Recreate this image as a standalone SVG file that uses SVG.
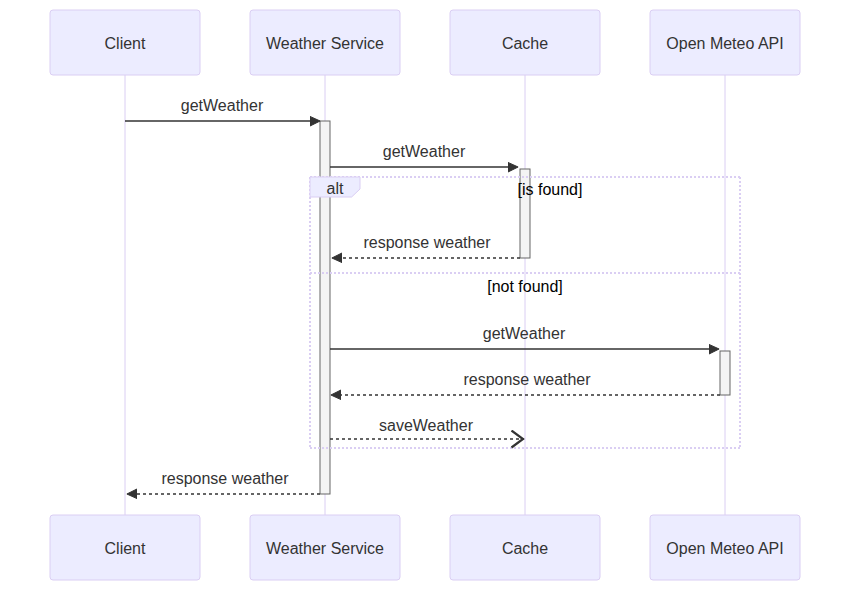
<svg xmlns="http://www.w3.org/2000/svg" width="850" height="591" viewBox="0 0 850 591">
<style>
  .actor { fill: #ECECFF; stroke: #DACEF3; stroke-width: 1; }
  .actor-text { font-family: "trebuchet ms", "Liberation Sans", Arial, sans-serif; font-size: 16px; fill: #333; text-anchor: middle; }
  .lifeline { stroke: #DACEF3; stroke-width: 1; }
  .act { fill: #F4F4F4; stroke: #666; stroke-width: 1; }
  .msg { stroke: #333; stroke-width: 1.5; fill: none; }
  .dotted { stroke-dasharray: 3,3; }
  .msg-text { font-family: "trebuchet ms", "Liberation Sans", Arial, sans-serif; font-size: 16px; fill: #333; text-anchor: middle; }
  .loop-line { stroke: #DACEF3; stroke-width: 2; stroke-dasharray: 2,2; fill: none; }
  .label-box { fill: #ECECFF; stroke: #DACEF3; stroke-width: 1; }
  .loop-text { font-family: "trebuchet ms", "Liberation Sans", Arial, sans-serif; font-size: 16px; fill: #000; text-anchor: middle; }
  .label-text { font-family: "trebuchet ms", "Liberation Sans", Arial, sans-serif; font-size: 16px; fill: #333; text-anchor: middle; }
</style>
<defs>
  <marker id="arrowhead" refX="7.9" refY="5" markerUnits="userSpaceOnUse" markerWidth="12" markerHeight="12" orient="auto">
    <path d="M -1 0 L 10 5 L 0 10 z" fill="#333" stroke="#333" stroke-width="1"/>
  </marker>
  <marker id="openhead" refX="16" refY="9.5" markerUnits="userSpaceOnUse" markerWidth="20" markerHeight="20" orient="auto">
    <path d="M 3.5 1 L 15 9.5 L 3.5 18" fill="none" stroke="#333" stroke-width="2.2"/>
  </marker>
</defs>

<!-- lifelines -->
<g id="lifelines">
  <line class="lifeline" x1="125" y1="75" x2="125" y2="515"/>
  <line class="lifeline" x1="325" y1="75" x2="325" y2="515"/>
  <line class="lifeline" x1="525" y1="75" x2="525" y2="515"/>
  <line class="lifeline" x1="725" y1="75" x2="725" y2="515"/>
</g>

<!-- actors -->
<g id="client">
  <rect class="actor" x="50" y="10" width="150" height="65" rx="3"/>
  <text class="actor-text" x="125" y="49">Client</text>
  <rect class="actor" x="50" y="515" width="150" height="65" rx="3"/>
  <text class="actor-text" x="125" y="554">Client</text>
</g>
<g id="weather-service">
  <rect class="actor" x="250" y="10" width="150" height="65" rx="3"/>
  <text class="actor-text" x="325" y="49">Weather Service</text>
  <rect class="actor" x="250" y="515" width="150" height="65" rx="3"/>
  <text class="actor-text" x="325" y="554">Weather Service</text>
</g>
<g id="cache">
  <rect class="actor" x="450" y="10" width="150" height="65" rx="3"/>
  <text class="actor-text" x="525" y="49">Cache</text>
  <rect class="actor" x="450" y="515" width="150" height="65" rx="3"/>
  <text class="actor-text" x="525" y="554">Cache</text>
</g>
<g id="open-meteo-api">
  <rect class="actor" x="650" y="10" width="150" height="65" rx="3"/>
  <text class="actor-text" x="725" y="49">Open Meteo API</text>
  <rect class="actor" x="650" y="515" width="150" height="65" rx="3"/>
  <text class="actor-text" x="725" y="554">Open Meteo API</text>
</g>

<!-- activations -->
<g id="activations">
  <rect class="act" x="320" y="121" width="10" height="373"/>
  <rect class="act" x="520" y="169" width="10" height="89"/>
  <rect class="act" x="720" y="351" width="10" height="44"/>
</g>

<!-- alt frame -->
<g id="alt-frame">
  <line class="loop-line" x1="310" y1="177" x2="740" y2="177"/>
  <line class="loop-line" x1="740" y1="177" x2="740" y2="448"/>
  <line class="loop-line" x1="310" y1="448" x2="740" y2="448"/>
  <line class="loop-line" x1="310" y1="177" x2="310" y2="448"/>
  <line class="loop-line" x1="310" y1="273" x2="740" y2="273"/>
  <polygon class="label-box" points="310,177 360,177 360,189 351.6,197 310,197"/>
  <text class="label-text" x="335" y="194">alt</text>
  <text class="loop-text" x="550" y="195">[is found]</text>
  <text class="loop-text" x="525" y="292">[not found]</text>
</g>

<!-- connectors -->
<g id="connectors">
  <line class="msg" x1="125" y1="121" x2="318" y2="121" marker-end="url(#arrowhead)"/>
  <line class="msg" x1="330" y1="167" x2="516" y2="167" marker-end="url(#arrowhead)"/>
  <line class="msg dotted" x1="520" y1="258" x2="334" y2="258" marker-end="url(#arrowhead)"/>
  <line class="msg" x1="330" y1="349" x2="717" y2="349" marker-end="url(#arrowhead)"/>
  <line class="msg dotted" x1="720" y1="395" x2="333" y2="395" marker-end="url(#arrowhead)"/>
  <line class="msg dotted" x1="330" y1="439" x2="524" y2="439" marker-end="url(#openhead)"/>
  <line class="msg dotted" x1="320" y1="494" x2="129" y2="494" marker-end="url(#arrowhead)"/>
</g>

<!-- message labels -->
<g id="message-labels">
  <text class="msg-text" x="222" y="111">getWeather</text>
  <text class="msg-text" x="424" y="157">getWeather</text>
  <text class="msg-text" x="427" y="248">response weather</text>
  <text class="msg-text" x="524" y="339">getWeather</text>
  <text class="msg-text" x="527" y="385">response weather</text>
  <text class="msg-text" x="426" y="431">saveWeather</text>
  <text class="msg-text" x="225" y="484">response weather</text>
</g>
</svg>
